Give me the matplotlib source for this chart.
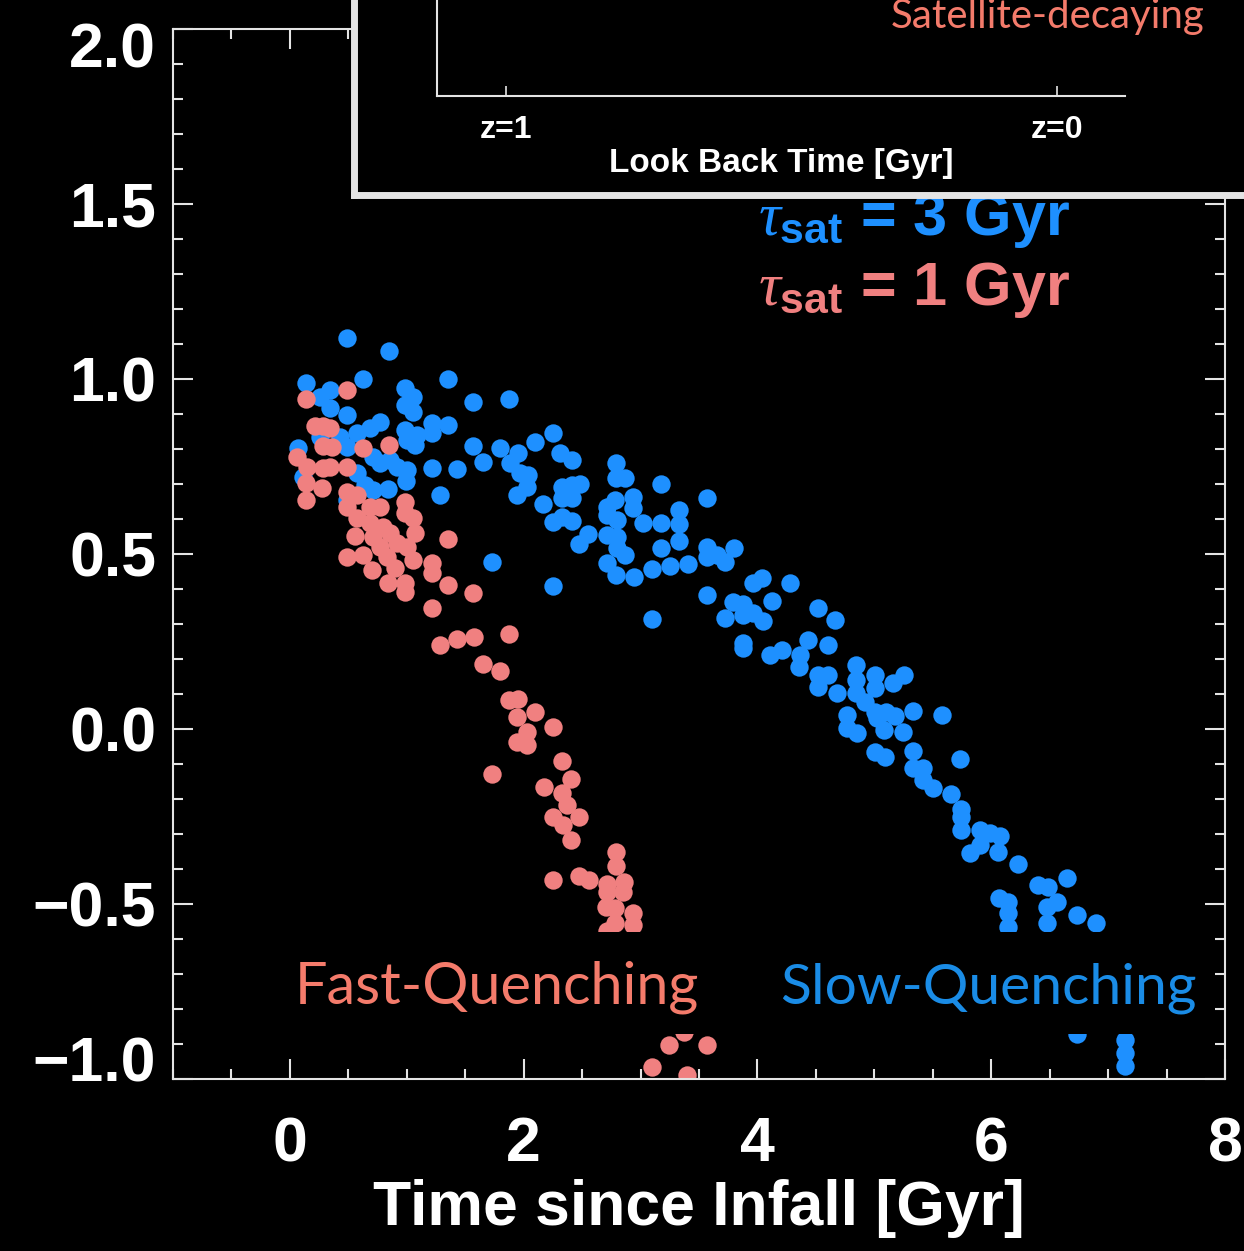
import matplotlib as mpl
import matplotlib.pyplot as plt
from matplotlib.ticker import MultipleLocator
from matplotlib.transforms import ScaledTranslation

mpl.use("Agg")

plt.rcParams["font.family"] = ["Liberation Sans", "DejaVu Sans"]
plt.rcParams["mathtext.fontset"] = "custom"
plt.rcParams["mathtext.it"] = "Liberation Serif:italic"
plt.rcParams["mathtext.bf"] = "Liberation Sans:bold"
plt.rcParams["mathtext.rm"] = "Liberation Sans:bold"

# time since infall [Gyr] and offset, tau_sat = 3 Gyr sample
tau3_t = [0.485, 0.847, 0.137, 0.342, 0.627, 1.354, 0.984, 1.055, 0.984, 1.055,
          0.257, 0.342, 0.485, 1.568, 1.871, 1.212, 1.354, 1.212, 0.770, 0.684,
          0.571, 0.984, 1.084, 0.998, 1.069, 0.428, 0.485, 0.071, 0.257, 1.568,
          1.796, 1.953, 1.648, 2.096, 2.247, 2.310, 1.212, 1.426, 1.882, 1.967,
          2.038, 2.025, 1.944, 2.167, 2.252, 0.713, 0.770, 0.855, 0.913, 0.998,
          0.992, 0.571, 0.642, 0.713, 0.841, 1.283, 0.114, 0.485, 1.725, 2.247,
          2.410, 2.789, 2.789, 2.866, 3.171, 3.565, 2.324, 2.410, 2.481, 2.324,
          2.410, 2.937, 2.709, 2.780, 2.937, 2.709, 2.795, 3.017, 3.171, 3.330,
          3.330, 2.324, 2.410, 2.552, 2.475, 2.709, 2.795, 2.795, 2.866, 2.709,
          2.789, 2.943, 3.094, 3.171, 3.251, 3.330, 3.407, 3.565, 3.565, 3.650,
          3.721, 3.801, 3.565, 3.094, 3.963, 4.035, 4.277, 4.121, 3.792, 3.878,
          3.721, 3.878, 3.963, 4.044, 4.519, 4.662, 3.878, 3.878, 4.106, 4.206,
          4.363, 4.434, 4.605, 4.357, 4.519, 4.605, 4.519, 4.682, 4.842, 4.842,
          5.004, 5.004, 4.842, 4.919, 5.161, 5.252, 5.004, 5.104, 5.175, 5.332,
          5.575, 4.762, 4.762, 4.848, 5.019, 5.081, 5.246, 5.004, 5.090, 5.332,
          5.737, 5.332, 5.417, 5.417, 5.498, 5.654, 5.740, 5.740, 5.740, 5.902,
          5.988, 6.074, 5.902, 5.817, 6.059, 6.230, 6.401, 6.487, 6.644, 6.559,
          6.473, 6.473, 6.730, 6.895, 6.068, 6.145, 6.145, 6.145, 6.730, 7.143,
          7.143, 7.143]
tau3_y = [1.116, 1.081, 0.988, 0.969, 0.999, 0.999, 0.973, 0.949, 0.926, 0.907,
          0.949, 0.916, 0.897, 0.933, 0.942, 0.873, 0.869, 0.845, 0.878, 0.859,
          0.845, 0.854, 0.840, 0.826, 0.811, 0.835, 0.807, 0.802, 0.835, 0.809,
          0.804, 0.788, 0.762, 0.819, 0.845, 0.788, 0.747, 0.743, 0.759, 0.731,
          0.726, 0.692, 0.669, 0.642, 0.591, 0.778, 0.759, 0.769, 0.749, 0.740,
          0.709, 0.731, 0.697, 0.683, 0.685, 0.669, 0.721, 0.654, 0.478, 0.409,
          0.769, 0.759, 0.716, 0.716, 0.700, 0.659, 0.692, 0.697, 0.699, 0.659,
          0.659, 0.664, 0.635, 0.654, 0.631, 0.611, 0.597, 0.588, 0.589, 0.626,
          0.586, 0.607, 0.595, 0.557, 0.529, 0.554, 0.549, 0.516, 0.497, 0.473,
          0.440, 0.433, 0.456, 0.516, 0.467, 0.537, 0.471, 0.521, 0.492, 0.497,
          0.476, 0.518, 0.383, 0.313, 0.416, 0.431, 0.416, 0.367, 0.362, 0.357,
          0.316, 0.326, 0.331, 0.309, 0.345, 0.311, 0.247, 0.231, 0.211, 0.226,
          0.211, 0.254, 0.240, 0.178, 0.154, 0.154, 0.121, 0.102, 0.183, 0.140,
          0.154, 0.116, 0.102, 0.078, 0.131, 0.154, 0.049, 0.049, 0.037, 0.052,
          0.040, 0.040, 0.002, -0.012, 0.031, -0.003, -0.009, -0.065, -0.079, -0.062,
          -0.086, -0.112, -0.112, -0.146, -0.169, -0.186, -0.229, -0.252, -0.289, -0.289,
          -0.297, -0.306, -0.331, -0.355, -0.351, -0.387, -0.446, -0.452, -0.427, -0.493,
          -0.508, -0.555, -0.531, -0.555, -0.484, -0.493, -0.527, -0.565, -0.871, -0.889,
          -0.927, -0.963]

# tau_sat = 1 Gyr sample
tau1_t = [0.485, 0.137, 0.214, 0.285, 0.342, 0.627, 0.847, 0.285, 0.357, 0.057,
          0.143, 0.285, 0.342, 0.485, 0.137, 0.137, 0.271, 0.485, 0.571, 0.485,
          0.571, 0.684, 0.770, 0.984, 1.055, 0.984, 0.684, 0.798, 0.556, 0.713,
          0.855, 1.069, 0.913, 0.998, 0.770, 0.485, 0.627, 0.827, 1.055, 1.212,
          1.212, 0.699, 0.898, 0.841, 0.984, 0.984, 1.354, 1.354, 1.568, 1.212,
          1.283, 1.426, 1.574, 1.873, 1.648, 1.796, 1.873, 1.953, 1.944, 2.096,
          2.025, 1.944, 2.025, 2.247, 1.725, 2.324, 2.401, 2.173, 2.324, 2.367,
          2.252, 2.338, 2.475, 2.401, 2.786, 2.786, 2.247, 2.475, 2.560, 2.709,
          2.857, 2.709, 2.851, 2.703, 2.780, 2.937, 2.780, 2.937, 2.709, 3.245,
          3.094, 3.400, 3.567, 3.370]
tau1_y = [0.969, 0.943, 0.866, 0.866, 0.859, 0.804, 0.811, 0.809, 0.807, 0.778,
          0.749, 0.745, 0.749, 0.749, 0.702, 0.654, 0.688, 0.678, 0.669, 0.635,
          0.602, 0.635, 0.635, 0.649, 0.602, 0.616, 0.588, 0.578, 0.552, 0.549,
          0.559, 0.559, 0.531, 0.521, 0.521, 0.492, 0.497, 0.492, 0.483, 0.473,
          0.445, 0.454, 0.459, 0.416, 0.416, 0.392, 0.411, 0.542, 0.388, 0.345,
          0.240, 0.256, 0.264, 0.271, 0.186, 0.166, 0.083, 0.085, 0.035, 0.048,
          -0.008, -0.036, -0.046, 0.005, -0.129, -0.091, -0.144, -0.165, -0.184, -0.217,
          -0.252, -0.274, -0.252, -0.317, -0.352, -0.391, -0.431, -0.420, -0.431, -0.443,
          -0.436, -0.465, -0.465, -0.509, -0.512, -0.527, -0.555, -0.560, -0.577, -0.903,
          -0.965, -0.989, -0.903, -0.866]

# look back time of z=1 and z=0 for the inset axis
lookback_z = [7.7, 0.0]
lookback_lab = ["z=1", "z=0"]

blue = "#1e90ff"
salmon = "#f08080"
edge = "#e4e4e4"

fig = plt.figure(figsize=(12.44, 12.51), dpi=100, facecolor="black")
ax = fig.add_axes([0.13907, 0.13749, 0.84566, 0.83933], facecolor="black")

ax.scatter(tau3_t, tau3_y, s=175, color=blue, linewidths=0, zorder=1)
ax.scatter(tau1_t, tau1_y, s=175, color=salmon, linewidths=0, zorder=1.2)

# black strip behind the annotations
ax.axhspan(-0.871, -0.58, color="black", lw=0, zorder=1.5)

ax.set_xlim(-1, 8)
ax.set_ylim(-1, 2)
ax.xaxis.set_major_locator(MultipleLocator(2))
ax.xaxis.set_minor_locator(MultipleLocator(0.5))
ax.yaxis.set_major_locator(MultipleLocator(0.5))
ax.yaxis.set_minor_locator(MultipleLocator(0.1))
for s in ax.spines.values():
    s.set_color(edge)
    s.set_linewidth(1.5)
ax.tick_params(which="both", direction="in", top=True, right=True,
               color=edge, width=1.5)
ax.tick_params(which="major", length=14.5)
ax.tick_params(which="minor", length=7)
ax.tick_params(axis="x", which="major", pad=26, labelsize=45, labelcolor="white")
ax.tick_params(axis="y", which="major", pad=12, labelsize=45, labelcolor="white")
for lab in ax.get_xticklabels() + ax.get_yticklabels():
    lab.set_fontweight("bold")

# the end labels sit inside the frame
for lab in ax.get_yticklabels():
    if lab.get_text() == "2.0":
        lab.set_transform(lab.get_transform()
                          + ScaledTranslation(0, -0.155, fig.dpi_scale_trans))
    elif lab.get_text() == "\u22121.0":
        lab.set_transform(lab.get_transform()
                          + ScaledTranslation(0, 0.21, fig.dpi_scale_trans))

ax.set_xlabel("Time since Infall [Gyr]", fontsize=45, fontweight="bold",
              color="white", va="baseline")
ax.xaxis.set_label_coords(0.5, -0.139)

ax.text(6.672, 1.411, r"$\tau_{\mathbf{sat}}$ = 3 Gyr", color=blue,
        fontsize=44, fontweight="bold", ha="right", va="baseline", zorder=3)
ax.text(6.672, 1.211, r"$\tau_{\mathbf{sat}}$ = 1 Gyr", color=salmon,
        fontsize=44, fontweight="bold", ha="right", va="baseline", zorder=3)

ax.text(0.043, -0.783, "Fast-Quenching", color="#f47b6b", fontsize=41.5,
        family="Lato", ha="left", va="baseline", zorder=3)
ax.text(4.19, -0.783, "Slow-Quenching", color="#1a8ce6", fontsize=41,
        family="Lato", ha="left", va="baseline", zorder=3)

# inset panel: framed box over the upper part of the plot
box = fig.add_axes([0.28457, 0.84373, 1.0, 0.3], facecolor="black")
box.set_xticks([])
box.set_yticks([])
for s in box.spines.values():
    s.set_color(edge)
    s.set_linewidth(5)

ins = fig.add_axes([0.35129, 0.92326, 0.55305, 0.2], facecolor="none")
ins.set_xlim(8.66, -0.95)
ins.set_ylim(0, 1)
ins.spines["top"].set_visible(False)
ins.spines["right"].set_visible(False)
for side in ["left", "bottom"]:
    ins.spines[side].set_color(edge)
    ins.spines[side].set_linewidth(1.5)
ins.set_yticks([])
ins.set_xticks(lookback_z, lookback_lab)
ins.tick_params(axis="x", direction="in", length=7, width=1.2, color=edge,
                pad=14, labelsize=23, labelcolor="white")
for lab in ins.get_xticklabels():
    lab.set_fontweight("bold")
ins.set_xlabel("Look Back Time [Gyr]", fontsize=24, fontweight="bold",
               color="white", va="baseline")
ins.xaxis.set_label_coords(0.5, -0.304)

fig.text(0.9687, 0.9776, "Satellite-decaying", color="#f47b6b", fontsize=29,
         family="Lato", ha="right", va="baseline")

fig.savefig("out.png", dpi=100, facecolor="black")
